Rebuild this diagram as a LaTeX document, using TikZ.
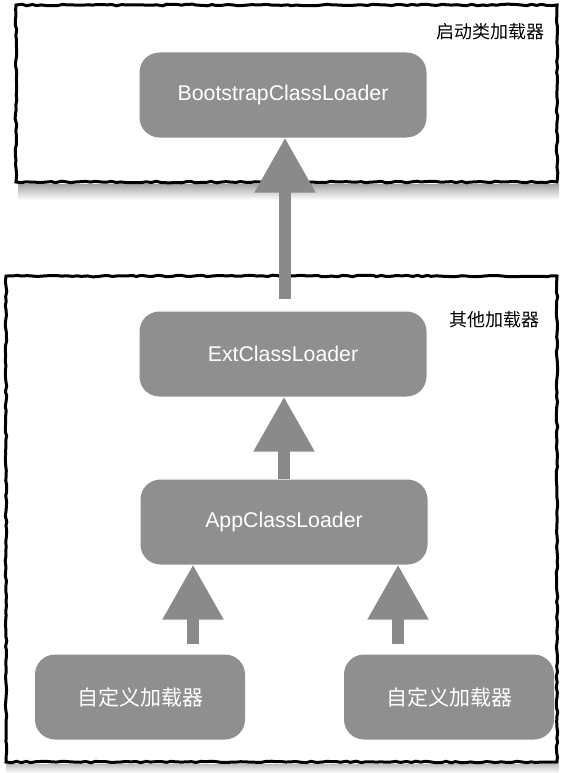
\documentclass[tikz,border=0pt]{standalone}
\usepackage{fontspec}
\setmainfont{Liberation Sans}
\newfontfamily\cjk{Noto Sans CJK SC}
\usetikzlibrary{arrows.meta,decorations.pathmorphing}
\definecolor{loadergray}{HTML}{8F8F8F}
\definecolor{arrowgray}{HTML}{8A8A8A}

\tikzset{
  loader/.style={rounded corners=20pt, fill=loadergray, text=white,
    minimum width=287pt, minimum height=85pt, font=\fontsize{21.3}{25}\selectfont},
  custom/.style={loader, minimum width=210pt, font=\cjk\fontsize{21}{25}\selectfont},
  frame/.style={draw=black, line width=3pt,
    decorate, decoration={random steps, segment length=5pt, amplitude=0.8pt}},
  grouplabel/.style={font=\cjk\fontsize{18}{22}\selectfont},
  uparrow/.style={draw=arrowgray, line width=12pt,
    -{Triangle[width=58pt,length=55pt]}}
}

\begin{document}
\begin{tikzpicture}[x=1pt,y=-1pt]
\useasboundingbox (0,0) rectangle (564,773);
% shadows under the frames
\shade[top color=black!35, bottom color=white] (18,184) rectangle (559,200);
\shade[top color=black!25, bottom color=white] (6,764) rectangle (559,773);
% frames
\draw[frame] (16,5) rectangle (557,182);
\draw[frame] (6,276) rectangle (557,762);
\node[grouplabel] (toplabel) at (490,32) {启动类加载器};
\node[grouplabel] (otherlabel) at (494,320) {其他加载器};

% loaders
\node[loader] (boot) at (283,95) {BootstrapClassLoader};
\node[loader] (ext) at (283,354) {ExtClassLoader};
\node[loader] (app) at (284,522) {AppClassLoader};
\node[custom] (cust1) at (140,697) {自定义加载器};
\node[custom] (cust2) at (449,697) {自定义加载器};

% delegation arrows
\draw[uparrow, shorten <=12pt] ([xshift=2pt]ext.north) -- ([xshift=2pt]boot.south);
\draw[uparrow] (app.north) -- (app.north |- ext.south);
\draw[uparrow, shorten <=10pt] ([xshift=53pt]cust1.north) -- ([xshift=53pt]cust1.north |- app.south);
\draw[uparrow, shorten <=10pt] ([xshift=-51pt]cust2.north) -- ([xshift=-51pt]cust2.north |- app.south);
\end{tikzpicture}
\end{document}
